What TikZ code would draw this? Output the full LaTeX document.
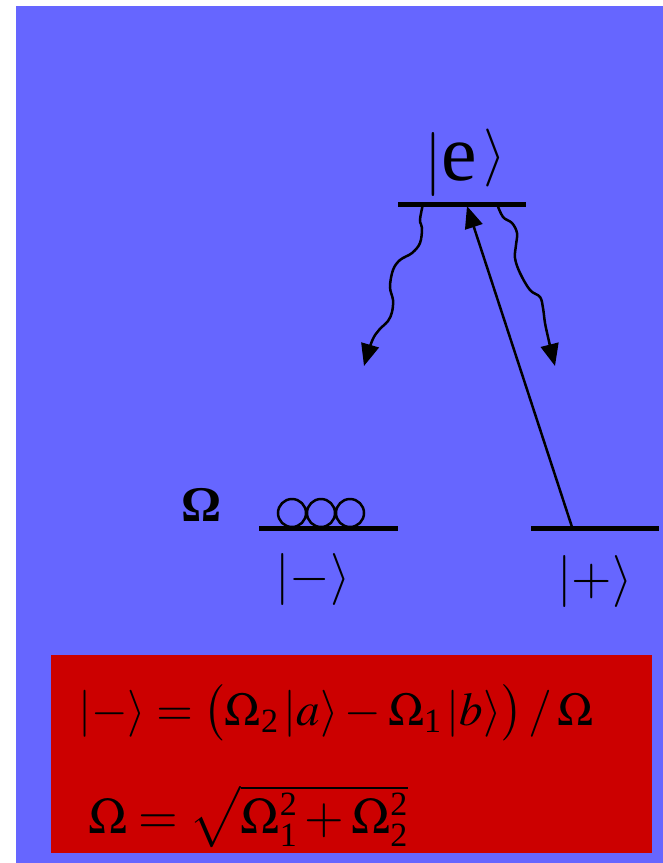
\documentclass[tikz,border=0pt]{standalone}
\usepackage{mathptmx}
\usepackage{fontspec}
\setmainfont{Liberation Serif}
\usetikzlibrary{arrows.meta}
\definecolor{bgblue}{RGB}{102,102,255}
\definecolor{boxred}{RGB}{204,0,0}
\newcommand\sbx[1]{\mbox{\fontsize{34}{34}\selectfont #1}}
\begin{document}
\begin{tikzpicture}[x=1pt,y=-1pt,
  level/.style={line width=5pt},
  photon/.style={line width=2.5pt,-{Triangle[length=22pt,width=18pt]}},
  pump/.style={line width=2.5pt,-{Triangle[length=22pt,width=18pt]}},
  ring/.style={line width=2.5pt},
  lbl/.style={inner sep=0pt,font=\fontsize{52}{52}\selectfont},
  eq/.style={inner sep=0pt,anchor=base west,font=\fontsize{47}{50}\selectfont}]
\useasboundingbox (0,0) rectangle (663,863);
\fill[bgblue] (16,6) rectangle (663,863);
\fill[boxred] (51,655) rectangle (652,853);
% levels
\coordinate (eL) at (398,204); \coordinate (eR) at (526,204);
\coordinate (mL) at (259,528); \coordinate (mR) at (398,528);
\coordinate (pL) at (531,528); \coordinate (pR) at (659,528);
\draw[level] (eL) -- (eR);
\draw[level] (mL) -- (mR);
\draw[level] (pL) -- (pR);
% labels
\node[inner sep=0pt] (eket) at (465,163) {{\fontsize{64}{64}\selectfont$|$}{\fontsize{80}{80}\selectfont e}\hspace{6pt}\raisebox{8pt}{\fontsize{58}{58}\selectfont$\rangle$}};
\node[lbl] (mket) at (313,580) {$|{-}\rangle$};
\node[lbl] (pket) at (595,582) {$|{+}\rangle$};
\node[inner sep=0pt,font=\fontsize{50}{50}\selectfont\bfseries] (om) at (202,505) {Ω};
% circles
\draw[ring] (292,513) circle (14) (321,513) circle (14) (350,513) circle (14);
% pump arrow
\coordinate (pA) at (572,527); \coordinate (eA) at (467,206);
\draw[pump] (pA) -- (eA);
% spontaneous emission
\coordinate (w1s) at (423,204); \coordinate (w1e) at (364,366);
\coordinate (w2s) at (497,204); \coordinate (w2e) at (555,366);
\draw[photon] plot[smooth,tension=0.6] coordinates {(w1s) (420,220) (422,228) (420,243) (412,253) (400,260) (393,270) (390,287) (393,300) (392,312) (388,321) (379,330) (372,341) (w1e)};
\draw[photon] plot[smooth,tension=0.6] coordinates {(w2s) (503,217) (512,223) (517,233) (516,245) (515,258) (520,273) (530,290) (540,297) (543,308) (545,323) (548,337) (551,350) (w2e)};
% formulas
\node[eq] (f1) at (78,725) {$|{-}\rangle = \bigl(\Omega_{\sbx{2}}\,|a\rangle - \Omega_{\sbx{1}}\,|b\rangle\bigr)\,/\,\Omega$};
\node[eq,font=\fontsize{51}{54}\selectfont] (f2) at (88,833) {$\Omega = \sqrt{\Omega_{\sbx{1}}^{\sbx{2}} + \Omega_{\sbx{2}}^{\sbx{2}}}$};
\end{tikzpicture}
\end{document}
